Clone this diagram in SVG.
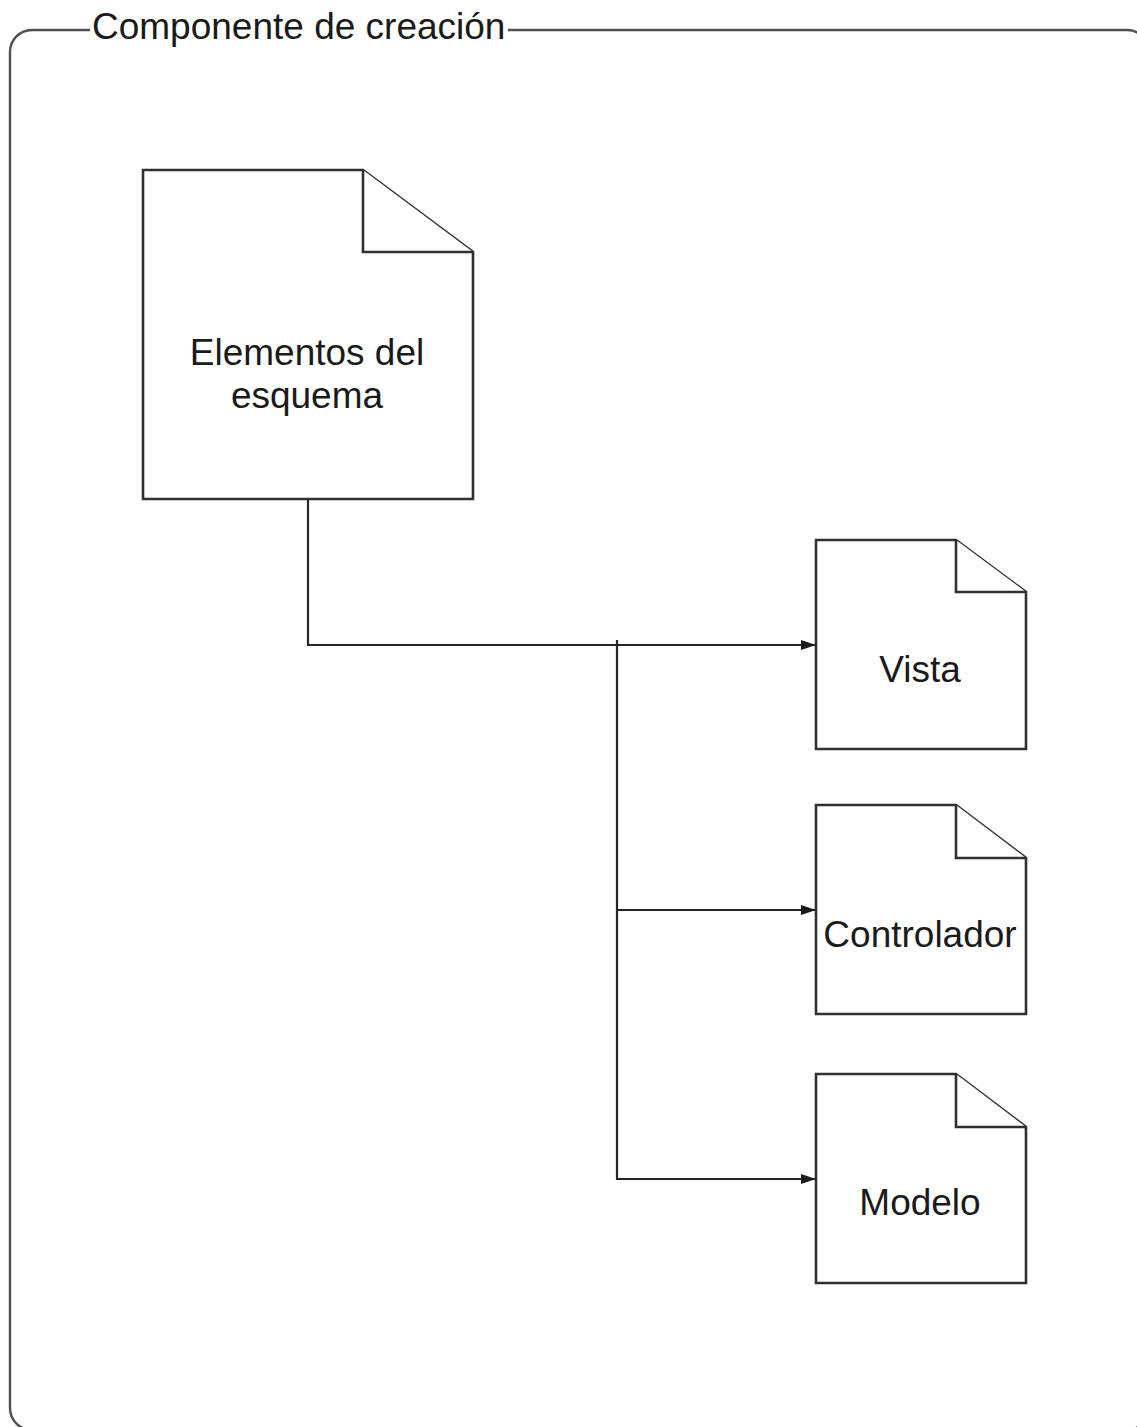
<svg xmlns="http://www.w3.org/2000/svg" width="1137" height="1427" viewBox="0 0 1137 1427">
<style>
.doc{fill:#ffffff;stroke:#303030;stroke-width:2.6;stroke-linejoin:miter}
.lbl{font-family:"Liberation Sans",Arial,sans-serif;font-size:37px;fill:#1a1a1a;text-anchor:middle}
.wire{fill:none;stroke:#262626;stroke-width:2.2}
.frame{fill:none;stroke:#505050;stroke-width:2.4}
</style>
<defs>
<marker id="arr" markerWidth="15" markerHeight="10" refX="15" refY="5" orient="auto" markerUnits="userSpaceOnUse">
<path d="M0,0 L15,5 L0,10 Z" fill="#1a1a1a"/>
</marker>
</defs>
<rect x="0" y="0" width="1137" height="1427" fill="#ffffff"/>
<g id="frame">
<path class="frame" d="M90,30 H32 A22,22 0 0 0 10,52 V1408 A22,22 0 0 0 32,1430 H1127 A22,22 0 0 0 1149,1408 V52 A22,22 0 0 0 1127,30 H508"/>
<text x="92" y="39" style="font-family:'Liberation Sans',Arial,sans-serif;font-size:37px;fill:#1a1a1a">Componente de creación</text>
</g>
<g id="connectors">
<path class="wire" d="M308,499 V645 H816" marker-end="url(#arr)"/>
<path class="wire" d="M617,640 V1179 H816" marker-end="url(#arr)"/>
<path class="wire" d="M617,910 H816" marker-end="url(#arr)"/>
</g>
<g id="node-elementos">
<path class="doc" d="M143,170 H363 L473,252 V499 H143 Z"/>
<path class="doc" d="M363,170 V252 H473"/>
<text class="lbl" x="307" y="365">Elementos del</text>
<text class="lbl" x="307" y="408">esquema</text>
</g>
<g id="node-vista">
<path class="doc" d="M816,540 H956 L1026,592 V749 H816 Z"/>
<path class="doc" d="M956,540 V592 H1026"/>
<text class="lbl" x="920" y="682">Vista</text>
</g>
<g id="node-controlador">
<path class="doc" d="M816,805 H956 L1026,858 V1014 H816 Z"/>
<path class="doc" d="M956,805 V858 H1026"/>
<text class="lbl" x="920" y="947">Controlador</text>
</g>
<g id="node-modelo">
<path class="doc" d="M816,1074 H956 L1026,1127 V1283 H816 Z"/>
<path class="doc" d="M956,1074 V1127 H1026"/>
<text class="lbl" x="920" y="1215">Modelo</text>
</g>
</svg>
